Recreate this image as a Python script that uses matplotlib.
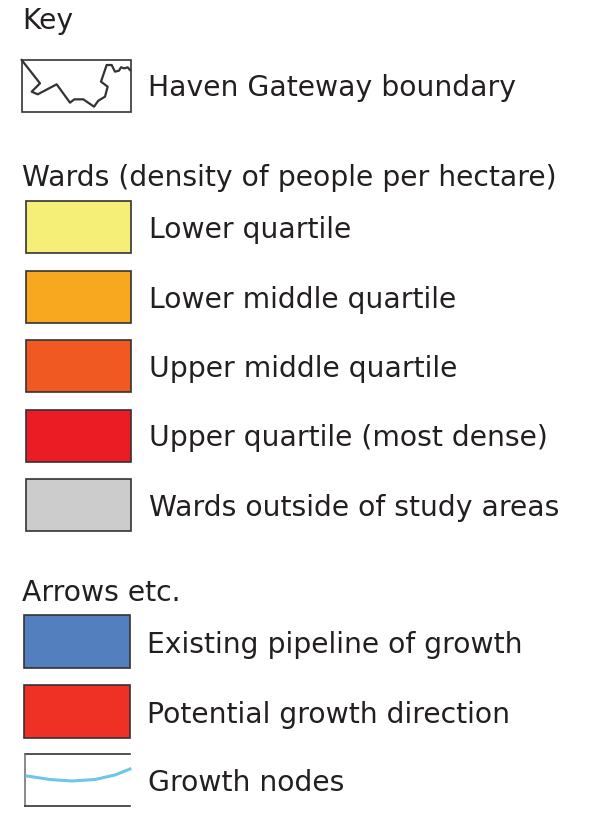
import matplotlib
matplotlib.use('Agg')
import matplotlib.pyplot as plt
from matplotlib.patches import Rectangle

# Legend content
headings = ['Key', 'Wards (density of people per hectare)', 'Arrows etc.']
ward_labels = ['Lower quartile', 'Lower middle quartile', 'Upper middle quartile',
               'Upper quartile (most dense)', 'Wards outside of study areas']
ward_colors = ['#f5ee77', '#f8a81f', '#f05a22', '#ec1c24', '#cccccc']
arrow_labels = ['Existing pipeline of growth', 'Potential growth direction']
arrow_colors = ['#537fbf', '#ee3124']
boundary_label = 'Haven Gateway boundary'
nodes_label = 'Growth nodes'

W, H = 598, 819
fig = plt.figure(figsize=(W / 100, H / 100), dpi=100)
ax = fig.add_axes([0, 0, 1, 1])
ax.set_xlim(0, W)
ax.set_ylim(H, 0)
ax.axis('off')

fs = 20.3
tc = '#231f20'

def label(x, y, s):
    ax.text(x, y, s, fontsize=fs, color=tc, va='baseline', ha='left')

# headings
for (y, s) in zip([29, 186, 601], headings):
    label(22, y, s)

# boundary icon
ax.add_patch(Rectangle((22, 60), 109, 52, fill=False, ec='#333333', lw=1.2))
bx = [20, 75, 50, 68, 125, 165, 178, 205, 237, 250, 270, 278, 258, 275, 290, 300, 312, 318, 328, 338, 345]
by = [30, 100, 125, 133, 103, 158, 148, 148, 170, 152, 140, 110, 95, 45, 45, 65, 62, 52, 55, 52, 60]
ax.plot([v / 3 + 15 for v in bx], [v / 3 + 50 for v in by], color='#333333', lw=1.6)
label(148, 96, boundary_label)

# ward swatches
for i, (lab, col) in enumerate(zip(ward_labels, ward_colors)):
    top = 201 + i * 69.5
    ax.add_patch(Rectangle((26, top), 105, 52, fc=col, ec='#333333', lw=1.2))
    label(149, top + 37, lab)

# arrow swatches
for i, (lab, col) in enumerate(zip(arrow_labels, arrow_colors)):
    top = 615 + i * 70
    ax.add_patch(Rectangle((24, top), 106, 53, fc=col, ec='#333333', lw=1.2))
    label(147, top + 38, lab)

# growth nodes icon
ax.plot([25, 130], [754, 754], color='#333333', lw=1.2)
ax.plot([25, 25], [754, 806], color='#777777', lw=1.2)
ax.plot([25, 130], [806, 806], color='#333333', lw=1.2)
cx = [27, 50, 72, 95, 115, 130]
cy = [776, 779.5, 781, 779.5, 775, 769]
ax.plot(cx, cy, color='#6ec6ea', lw=2.2)
label(148, 791, nodes_label)

fig.savefig('out.png', dpi=100)
